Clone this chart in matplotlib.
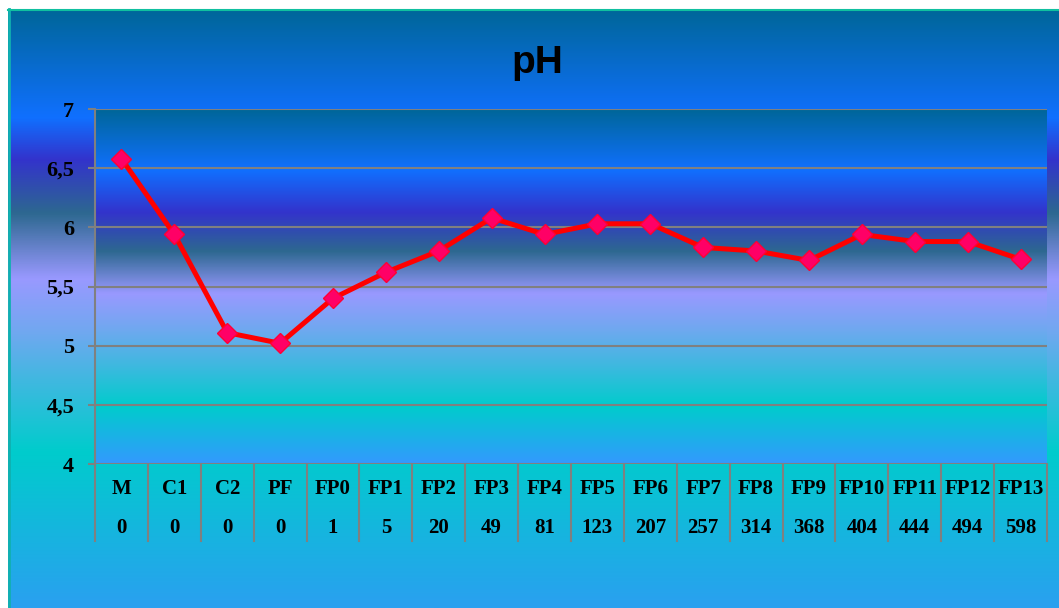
import numpy as np
import matplotlib.pyplot as plt
from matplotlib.colors import LinearSegmentedColormap
import matplotlib.transforms as mtransforms

# données
categories = ['M', 'C1', 'C2', 'PF', 'FP0', 'FP1', 'FP2', 'FP3', 'FP4', 'FP5',
              'FP6', 'FP7', 'FP8', 'FP9', 'FP10', 'FP11', 'FP12', 'FP13']
days = ['0', '0', '0', '0', '1', '5', '20', '49', '81', '123',
        '207', '257', '314', '368', '404', '444', '494', '598']
ph = [6.58, 5.94, 5.11, 5.02, 5.40, 5.62, 5.80, 6.08, 5.94, 6.03,
      6.03, 5.83, 5.80, 5.72, 5.94, 5.88, 5.88, 5.73]
yticks = [4, 4.5, 5, 5.5, 6, 6.5, 7]
ytick_labels = ['4', '4,5', '5', '5,5', '6', '6,5', '7']

W, H = 1059, 608
fig = plt.figure(figsize=(W / 100, H / 100), dpi=100)
fig.patch.set_facecolor('white')

# dégradé de fond (zone du graphique)
fig_cmap = LinearSegmentedColormap.from_list('fond', [
    (0.00, '#006699'), (0.18, '#1070ff'), (0.25, '#3333cc'), (0.34, '#2d6890'),
    (0.45, '#9999ff'), (0.54, '#70a8f0'), (0.62, '#40b8e0'), (0.74, '#00cccc'),
    (1.00, '#2aa0f0')])
bg = fig.add_axes([8 / W, 0, 1 - 8 / W, (H - 9) / H])
bg.imshow(np.linspace(0, 1, 256).reshape(-1, 1), cmap=fig_cmap, aspect='auto',
          extent=[0, 1, 0, 1])
bg.set_xlim(0, 1)
bg.set_ylim(0, 1)
bg.axis('off')
bg.plot([0.0005, 0.0005], [0, 1], color='#10b0b0', lw=2, transform=bg.transAxes, clip_on=False)
bg.plot([0, 1], [0.999, 0.999], color='#10c0a0', lw=1.5, transform=bg.transAxes, clip_on=False)

# zone de traçage
ax = fig.add_axes([95 / W, (H - 464) / H, (1047 - 95) / W, (464 - 109) / H])
plot_cmap = LinearSegmentedColormap.from_list('trace', [
    (0.00, '#006699'), (0.17, '#1070ff'), (0.29, '#3333cc'), (0.40, '#2d6890'),
    (0.52, '#9999ff'), (0.62, '#70a8f0'), (0.72, '#40b8e0'), (0.84, '#00cccc'),
    (1.00, '#3399ff')])
ax.imshow(np.linspace(0, 1, 256).reshape(-1, 1), cmap=plot_cmap, aspect='auto',
          extent=[0, 1, 0, 1], transform=ax.transAxes, zorder=0)

x = np.arange(len(categories))
ax.plot(x, ph, color='#ff0000', lw=3.6, marker='D', markersize=10,
        markerfacecolor='#ff0066', markeredgecolor='#ff0033', markeredgewidth=1, zorder=5)

ax.set_xlim(-0.5, len(categories) - 0.5)
ax.set_ylim(4, 7)
ax.set_yticks(yticks)
ax.set_yticklabels(ytick_labels, fontfamily='Liberation Serif', fontweight='bold', fontsize=16)
ax.tick_params(axis='y', length=5, width=1.5, color='#808080', pad=10)
ax.set_xticks([])
ax.grid(axis='y', color='#808080', lw=1.5)
ax.set_axisbelow(False)
for s in ['top', 'right', 'bottom']:
    ax.spines[s].set_visible(False)
ax.spines['left'].set_color('#808080')
ax.spines['left'].set_linewidth(1.5)

# tableau des catégories sous l'axe
trans = mtransforms.blended_transform_factory(ax.transData, ax.transAxes)
depth = (541 - 464) / (464 - 109)
for b in np.arange(-0.5, len(categories), 1.0):
    ax.plot([b, b], [0, -depth], color='#808080', lw=1.5, transform=trans, clip_on=False)
for i, (c, d) in enumerate(zip(categories, days)):
    ax.text(i, -(489 - 464) / (464 - 109), c, transform=trans, ha='center', va='center',
            fontfamily='Liberation Serif', fontweight='bold', fontsize=15)
    ax.text(i, -(528 - 464) / (464 - 109), d, transform=trans, ha='center', va='center',
            fontfamily='Liberation Serif', fontweight='bold', fontsize=15)

fig.text(537 / W, 1 - 63 / H, 'pH', ha='center', va='center',
         fontfamily='Liberation Sans', fontweight='bold', fontsize=28)

fig.savefig('out.png', dpi=100)
